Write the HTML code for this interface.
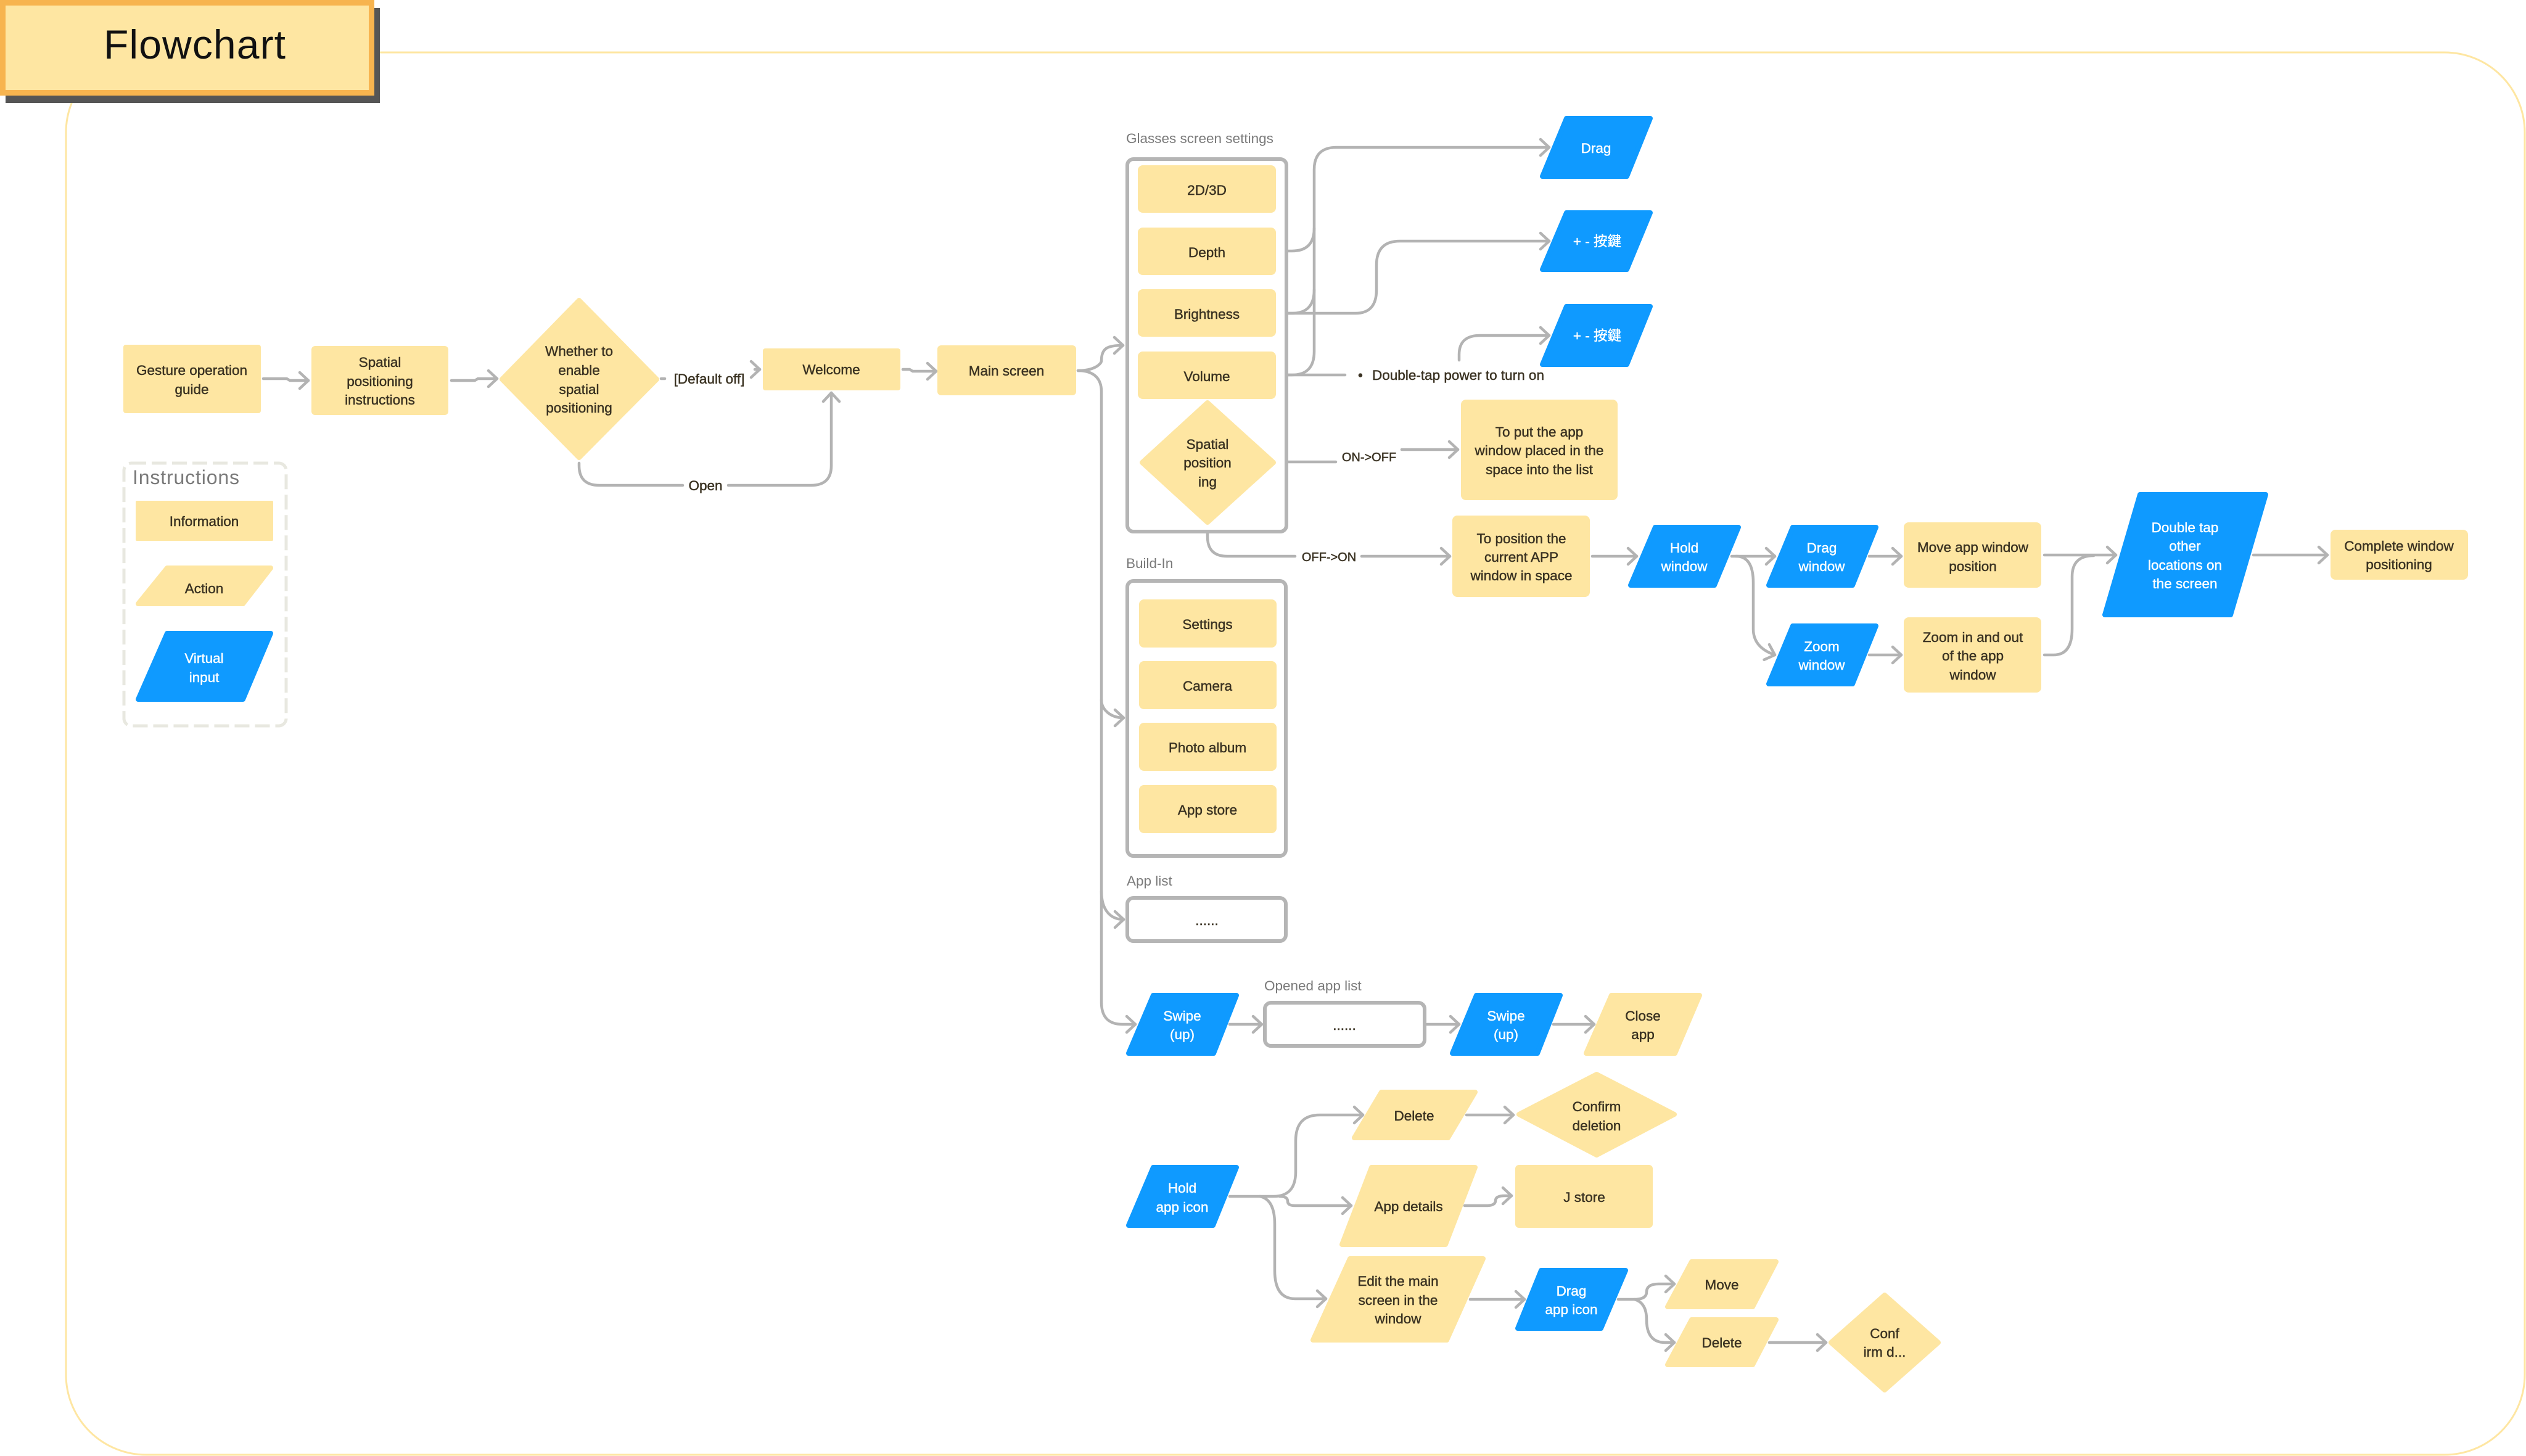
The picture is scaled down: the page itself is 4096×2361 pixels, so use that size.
<!DOCTYPE html>
<html><head><meta charset="utf-8"><title>Flowchart</title>
<style>
html,body{margin:0;padding:0;background:#fff}
svg{display:block}
.y{fill:#fee6a2;stroke:#fee6a2;stroke-width:8;stroke-linejoin:round}
.b{fill:#0f9aff;stroke:#0f9aff;stroke-width:8;stroke-linejoin:round}
.c path{fill:none;stroke:#b3b3b3;stroke-width:4.5;stroke-linecap:round;marker-end:none}
.c path.a{marker-end:url(#h)}
.g{fill:#fff;stroke:#b5b5b5;stroke-width:6}
text{font-family:"Liberation Sans","Noto Sans CJK TC",sans-serif;font-size:22.5px}
.t text{text-anchor:middle;fill:#3a3222;stroke:#3a3222;stroke-width:.45}
.w text{text-anchor:middle;fill:#fff;stroke:#fff;stroke-width:.4}
.l text{fill:#7a7a7a}
</style></head><body>
<svg xmlns="http://www.w3.org/2000/svg" width="4096" height="2361" viewBox="0 0 4096 2361">
<defs><marker id="h" viewBox="-18 -16 22 32" refX="0" refY="0" markerUnits="userSpaceOnUse" markerWidth="22" markerHeight="32" orient="auto"><path d="M-14 -13L0 0L-14 13" fill="none" stroke="#b3b3b3" stroke-width="4.5" stroke-linecap="round" stroke-linejoin="round"/></marker></defs>
<rect width="4096" height="2361" fill="#fff"/>
<rect x="107" y="85" width="3987" height="2274" rx="130" fill="none" stroke="#fee6a2" stroke-width="3"/>
<rect x="9" y="13" width="607" height="154" fill="#555"/>
<rect x="0" y="0" width="607" height="155" fill="#f7b44f"/>
<rect x="9" y="9" width="589" height="137" fill="#fee6a2"/>
<text x="168" y="95" textLength="295" style="font-size:66px;fill:#111">Flowchart</text>

<g class="c">
<path class="a" d="M427 614H465L470 617H500"/>
<path class="a" d="M732 617H770L775 614H806"/>
<path d="M1072 614H1078"/>
<path class="a" d="M1224 599H1232"/>
<path d="M939 751V755Q939 787 972 787H1107"/>
<path class="a" d="M1181 787H1315Q1348 787 1348 755V637"/>
<path class="a" d="M1464 599H1475L1480 602H1518"/>
<path class="a" d="M1748 601C1775 601 1786 590 1786 585C1786 565 1795 560 1821 560"/>
<path class="a" d="M1748 601C1775 601 1786 615 1786 635V1135C1786 1150 1800 1164 1822 1164"/>
<path class="a" d="M1786 1135V1445C1786 1475 1800 1491 1822 1491"/>
<path class="a" d="M1786 1445V1625Q1786 1661 1820 1661H1841"/>
<path class="a" d="M2072 407H2095Q2131 407 2131 370V275Q2131 239 2167 239H2512"/>
<path d="M2072 508H2095Q2131 508 2131 470V370"/>
<path d="M2072 608H2095Q2131 608 2131 570V470"/>
<path d="M2072 608H2181"/>
<path class="a" d="M2072 508H2198Q2232 508 2232 470V430Q2232 391 2270 391H2512"/>
<path class="a" d="M2366 584V575Q2366 544 2400 544H2512"/>
<path d="M2073 749H2166"/>
<path class="a" d="M2273 729H2364"/>
<path d="M1958 855V870Q1958 902 1990 902H2100"/>
<path class="a" d="M2208 902H2351"/>
<path class="a" d="M2582 902H2654"/>
<path class="a" d="M2808 902H2878"/>
<path class="a" d="M2815 902Q2843 902 2843 945V1020Q2843 1050 2878 1062"/>
<path class="a" d="M3031 902H3083"/>
<path class="a" d="M3031 1062H3083"/>
<path class="a" d="M3315 900H3431"/>
<path d="M3315 1062H3330Q3360 1062 3360 1020V935Q3360 901 3395 901"/>
<path class="a" d="M3654 900H3774"/>
<path class="a" d="M1994 1661H2046"/>
<path class="a" d="M2314 1661H2366"/>
<path class="a" d="M2519 1661H2585"/>
<path class="a" d="M1994 1940H2065Q2101 1940 2101 1900V1850Q2101 1808 2140 1808H2210"/>
<path class="a" d="M2075 1940Q2088 1940 2088 1948Q2088 1955 2100 1955H2191"/>
<path class="a" d="M2043 1940Q2067 1945 2067 1985V2060Q2067 2106 2100 2106H2150"/>
<path class="a" d="M2378 1808H2454"/>
<path class="a" d="M2375 1955H2410Q2425 1955 2425 1947Q2425 1939 2440 1939H2451"/>
<path class="a" d="M2384 2107H2472"/>
<path class="a" d="M2624 2107H2650Q2670 2107 2670 2095Q2670 2082 2690 2082H2715"/>
<path class="a" d="M2650 2107Q2670 2112 2670 2140Q2670 2177 2700 2177H2715"/>
<path class="a" d="M2869 2177H2961"/>
</g>

<rect x="201" y="751" width="263" height="426" rx="12" fill="none" stroke="#e8e8e0" stroke-width="5" stroke-dasharray="24 9"/>
<rect class="g" x="1828" y="258" width="258" height="604" rx="10"/>
<rect class="g" x="1828" y="942" width="257" height="446" rx="10"/>
<rect class="g" x="1828" y="1456" width="257" height="70" rx="10"/>
<rect class="g" x="2051" y="1626" width="259" height="70" rx="10"/>

<!-- yellow rectangles -->
<g fill="#fee6a2">
<rect x="200" y="559" width="223" height="111" rx="4"/>
<rect x="505" y="561" width="222" height="112" rx="6"/>
<rect x="1237" y="565" width="223" height="68" rx="4"/>
<rect x="1520" y="560" width="225" height="81" rx="6"/>
<rect x="220" y="812" width="223" height="65" rx="2"/>
<rect x="1845" y="268" width="224" height="77" rx="8"/>
<rect x="1845" y="369" width="224" height="77" rx="8"/>
<rect x="1845" y="469" width="224" height="77" rx="8"/>
<rect x="1845" y="570" width="224" height="77" rx="8"/>
<rect x="1847" y="972" width="223" height="78" rx="8"/>
<rect x="1847" y="1072" width="223" height="78" rx="8"/>
<rect x="1847" y="1172" width="223" height="78" rx="8"/>
<rect x="1847" y="1273" width="223" height="78" rx="8"/>
<rect x="2369" y="648" width="254" height="163" rx="8"/>
<rect x="2355" y="836" width="223" height="132" rx="8"/>
<rect x="3087" y="847" width="223" height="106" rx="8"/>
<rect x="3087" y="1001" width="223" height="122" rx="8"/>
<rect x="3779" y="859" width="223" height="81" rx="8"/>
<rect x="2457" y="1889" width="223" height="102" rx="6"/>
</g>
<!-- yellow diamonds -->
<polygon class="y" points="939,487 1065,615 939,742 814,615" />
<polygon class="y" points="1958,653 2065,750 1958,847 1852,750"/>
<polygon class="y" points="2589,1742 2715,1807 2589,1873 2463,1807"/>
<polygon class="y" points="3056,2100 3143,2177 3056,2254 2969,2177"/>
<!-- yellow parallelograms -->
<polygon class="y" points="271,921 439,921 394,979 224,979"/>
<polygon class="y" points="2613,1614 2756,1614 2716,1708 2572,1708"/>
<polygon class="y" points="2240,1771 2392,1771 2348,1845 2196,1845"/>
<polygon class="y" points="2224,1893 2392,1893 2344,2018 2176,2018"/>
<polygon class="y" points="2189,2041 2405,2041 2346,2173 2129,2173"/>
<polygon class="y" points="2743,2046 2880,2046 2842,2119 2704,2119"/>
<polygon class="y" points="2743,2140 2880,2140 2842,2213 2704,2213"/>
<!-- blue parallelograms -->
<polygon class="b" points="271,1027 439,1027 394,1134 224,1134"/>
<polygon class="b" points="2540,192 2676,192 2638,286 2501,286"/>
<polygon class="b" points="2540,345 2676,345 2638,437 2501,437"/>
<polygon class="b" points="2540,497 2676,497 2638,591 2501,591"/>
<polygon class="b" points="2684,855 2819,855 2780,949 2644,949"/>
<polygon class="b" points="2907,855 3042,855 3004,949 2868,949"/>
<polygon class="b" points="2907,1015 3042,1015 3004,1109 2868,1109"/>
<polygon class="b" points="3470,802 3674,802 3617,997 3413,997"/>
<polygon class="b" points="1870,1614 2005,1614 1968,1708 1830,1708"/>
<polygon class="b" points="2394,1614 2530,1614 2493,1708 2355,1708"/>
<polygon class="b" points="1870,1893 2005,1893 1967,1987 1830,1987"/>
<polygon class="b" points="2499,2060 2636,2060 2596,2154 2461,2154"/>

<g class="t">
<text x="311" y="608">Gesture operation</text><text x="311" y="639">guide</text>
<text x="616" y="595">Spatial</text><text x="616" y="626">positioning</text><text x="616" y="656">instructions</text>
<text x="939" y="577">Whether to</text><text x="939" y="608">enable</text><text x="939" y="639">spatial</text><text x="939" y="669">positioning</text>
<text x="1348" y="607">Welcome</text>
<text x="1632" y="609">Main screen</text>
<text x="331" y="853">Information</text>
<text x="331" y="962">Action</text>
<text x="1957" y="316">2D/3D</text>
<text x="1957" y="417">Depth</text>
<text x="1957" y="517">Brightness</text>
<text x="1957" y="618">Volume</text>
<text x="1958" y="728">Spatial</text><text x="1958" y="758">position</text><text x="1958" y="789">ing</text>
<text x="2496" y="708">To put the app</text><text x="2496" y="738">window placed in the</text><text x="2496" y="769">space into the list</text>
<text x="2467" y="881">To position the</text><text x="2467" y="911">current APP</text><text x="2467" y="941">window in space</text>
<text x="3199" y="895">Move app window</text><text x="3199" y="926">position</text>
<text x="3199" y="1041">Zoom in and out</text><text x="3199" y="1071">of the app</text><text x="3199" y="1102">window</text>
<text x="3890" y="893">Complete window</text><text x="3890" y="923">positioning</text>
<text x="1958" y="1020">Settings</text><text x="1958" y="1120">Camera</text><text x="1958" y="1220">Photo album</text><text x="1958" y="1321">App store</text>
<text x="2664" y="1655">Close</text><text x="2664" y="1685">app</text>
<text x="2293" y="1817">Delete</text>
<text x="2589" y="1802">Confirm</text><text x="2589" y="1833">deletion</text>
<text x="2284" y="1964">App details</text>
<text x="2569" y="1949">J store</text>
<text x="2267" y="2085">Edit the main</text><text x="2267" y="2116">screen in the</text><text x="2267" y="2146">window</text>
<text x="2792" y="2091">Move</text>
<text x="2792" y="2185">Delete</text>
<text x="3056" y="2170">Conf</text><text x="3056" y="2200">irm d...</text>
<text x="1150" y="622">[Default off]</text>
<text x="1144" y="795">Open</text>
<text x="2220" y="748" style="font-size:20px">ON-&gt;OFF</text>
<text x="2155" y="910" style="font-size:20px">OFF-&gt;ON</text>
<text x="1957" y="1500">......</text>
<text x="2180" y="1670">......</text>
<text x="2206" y="616">•</text>
<text x="2364.5" y="616">Double-tap power to turn on</text>
</g>
<g class="w">
<text x="331" y="1075">Virtual</text><text x="331" y="1106">input</text>
<text x="2588" y="248">Drag</text>
<text x="2590" y="399">+ - 按鍵</text>
<text x="2590" y="552">+ - 按鍵</text>
<text x="2731" y="896">Hold</text><text x="2731" y="926">window</text>
<text x="2954" y="896">Drag</text><text x="2954" y="926">window</text>
<text x="2954" y="1056">Zoom</text><text x="2954" y="1086">window</text>
<text x="3543" y="863">Double tap</text><text x="3543" y="893">other</text><text x="3543" y="924">locations on</text><text x="3543" y="954">the screen</text>
<text x="1917" y="1655">Swipe</text><text x="1917" y="1685">(up)</text>
<text x="2442" y="1655">Swipe</text><text x="2442" y="1685">(up)</text>
<text x="1917" y="1934">Hold</text><text x="1917" y="1965">app icon</text>
<text x="2548" y="2101">Drag</text><text x="2548" y="2131">app icon</text>
</g>
<g class="l">
<text x="215" y="785" style="font-size:32px" textLength="173">Instructions</text>
<text x="1826" y="232">Glasses screen settings</text>
<text x="1826" y="921">Build-In</text>
<text x="1827" y="1436">App list</text>
<text x="2050" y="1606">Opened app list</text>
</g>
</svg>
</body></html>
